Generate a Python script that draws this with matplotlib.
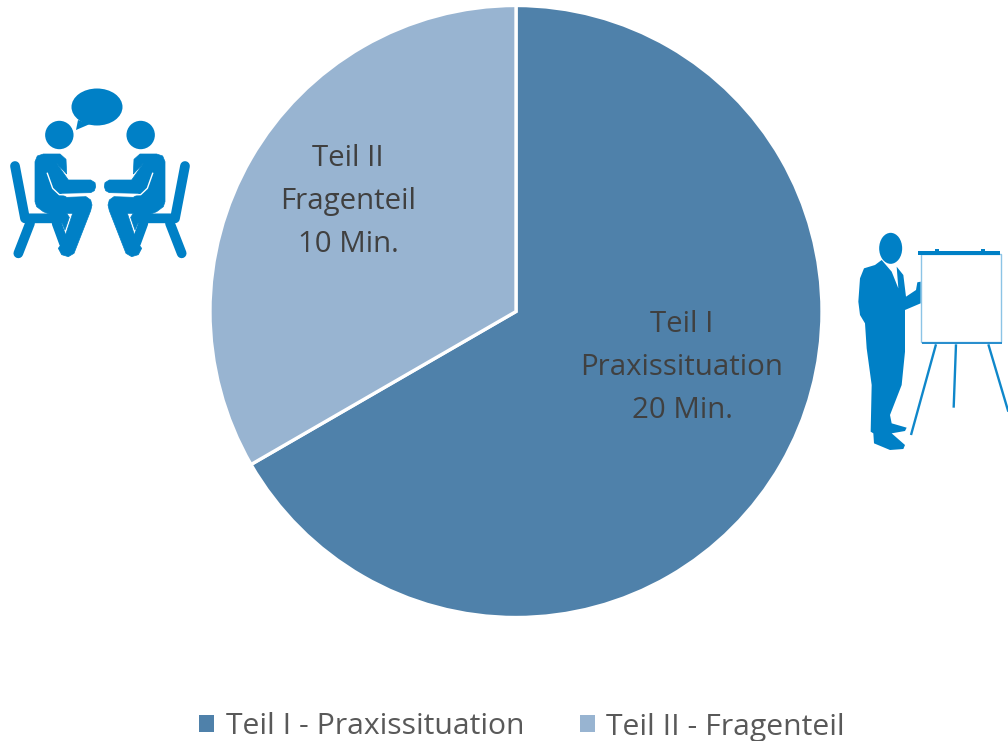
import matplotlib
matplotlib.use('Agg')
import matplotlib.pyplot as plt
from matplotlib.patches import Circle, Ellipse, Polygon, Rectangle

legend_labels = ['Teil I - Praxissituation', 'Teil II - Fragenteil']
slice_labels = ['Teil I\nPraxissituation\n20 Min.', 'Teil II\nFragenteil\n10 Min.']
minutes = [20, 10]
slice_colors = ['#4f81aa', '#98b4d1']
icon_blue = '#0080c6'

plt.rcParams['font.family'] = ['Open Sans', 'DejaVu Sans']

W, H = 1008, 741
fig = plt.figure(figsize=(W / 100, H / 100), dpi=100)

# pie: centre (516, 311.5), radius 306 px (white edge eats a bit of it)
R = 306
ax = fig.add_axes([(516 - R) / W, (H - 311.5 - R) / H, 2 * R / W, 2 * R / H])
wedges, _ = ax.pie(minutes, colors=slice_colors, startangle=90, counterclock=False,
                   radius=1, wedgeprops={'edgecolor': 'white', 'linewidth': 2.4})
ax.set_xlim(-1, 1)
ax.set_ylim(-1, 1)

ax.text(166 / R, -56 / R, slice_labels[0], ha='center', va='center', fontsize=21.2,
        color='#404040', linespacing=1.63)
ax.text(-168 / R, 110 / R, slice_labels[1], ha='center', va='center', fontsize=21.2,
        color='#404040', linespacing=1.63)

leg = fig.legend(wedges, legend_labels, ncol=2, loc='center', bbox_to_anchor=(522 / W, 1 - 727 / H),
                 frameon=False, fontsize=21.7, labelcolor='#595959', handlelength=0.5,
                 handleheight=0.5, handletextpad=0.37, columnspacing=1.85, borderpad=0)
for h in leg.legend_handles:
    h.set_edgecolor('none')

# overlay in pixel coordinates for the two icons
ov = fig.add_axes([0, 0, 1, 1], zorder=5)
ov.set_xlim(0, W)
ov.set_ylim(H, 0)
ov.axis('off')


def people(mirror):
    # coords read from the 3x zoom of the icon
    def p(x, y):
        if mirror:
            x = 600 - x
        return (x / 3, 80 + y / 3)

    chair = [[(45, 258), (75, 415), (190, 415)], [(90, 430), (55, 520)], [(170, 430), (192, 490)]]
    for line in chair:
        xy = [p(*q) for q in line]
        ov.plot([a[0] for a in xy], [a[1] for a in xy], color=icon_blue, lw=7,
                solid_capstyle='round', solid_joinstyle='round')
    body = [(105, 245), (112, 228), (130, 222), (180, 222), (198, 238), (200, 282), (170, 250),
            (205, 300), (272, 300), (285, 308), (287, 320), (283, 332), (272, 338), (180, 340),
            (200, 352), (258, 350), (272, 360), (276, 375), (272, 392), (222, 520), (205, 530),
            (185, 524), (175, 505), (190, 485), (218, 400), (200, 400), (208, 412), (195, 450),
            (180, 415), (130, 395), (110, 380), (105, 365)]
    ov.add_patch(Polygon([p(*q) for q in body], fc=icon_blue, ec=icon_blue, lw=0.5))
    slit = [p(*q) for q in [(142, 280), (158, 325), (178, 344), (250, 346)]]
    ov.plot([a[0] for a in slit], [a[1] for a in slit], color='white', lw=1.0)
    ov.add_patch(Circle(p(178, 165), 14.2, fc=icon_blue, ec='none'))


people(False)
people(True)
ov.add_patch(Ellipse((97, 107), 51, 37, fc=icon_blue, ec='none'))
ov.add_patch(Polygon([(78, 120), (76, 130), (90, 124)], fc=icon_blue, ec='none'))


def f(x, y):
    return (850 + x / 3, 225 + y / 3)


ov.add_patch(Ellipse(f(122, 70), 23, 31, fc=icon_blue, ec='none'))
suit = [(95, 105), (75, 120), (42, 130), (30, 160), (25, 230), (30, 270), (45, 295), (50, 370),
        (65, 480), (62, 620), (70, 625), (72, 655), (120, 675), (160, 672), (165, 660), (125, 625),
        (165, 618), (170, 608), (125, 595), (120, 570), (155, 480), (165, 380), (165, 255), (212, 235),
        (212, 170), (202, 172), (198, 195), (168, 215), (160, 150), (140, 125), (145, 190), (125, 140)]
ov.add_patch(Polygon([f(*q) for q in suit], fc=icon_blue, ec='none'))
x0, y0 = f(212, 88)
x1, y1 = f(452, 352)
ov.add_patch(Rectangle((x0, y0), x1 - x0, y1 - y0, fc='white', ec='#8cc4e6', lw=1))
bx, by = f(205, 78)
ov.add_patch(Rectangle((bx, by), 82, 4, fc=icon_blue, ec='none'))
bx, by = f(215, 352)
ov.add_patch(Rectangle((bx, by), 80, 2, fc='#2a8fce', ec='none'))
for cx in [262, 398]:
    bx, by = f(cx - 6, 72)
    ov.add_patch(Rectangle((bx, by), 4, 2, fc=icon_blue, ec='none'))
for a, b in [((258, 358), (183, 630)), ((318, 358), (311, 548)), ((415, 358), (475, 560))]:
    s, e = f(*a), f(*b)
    ov.plot([s[0], e[0]], [s[1], e[1]], color='#0f87ca', lw=1.7, solid_capstyle='butt')

plt.savefig('out.png', dpi=100)
